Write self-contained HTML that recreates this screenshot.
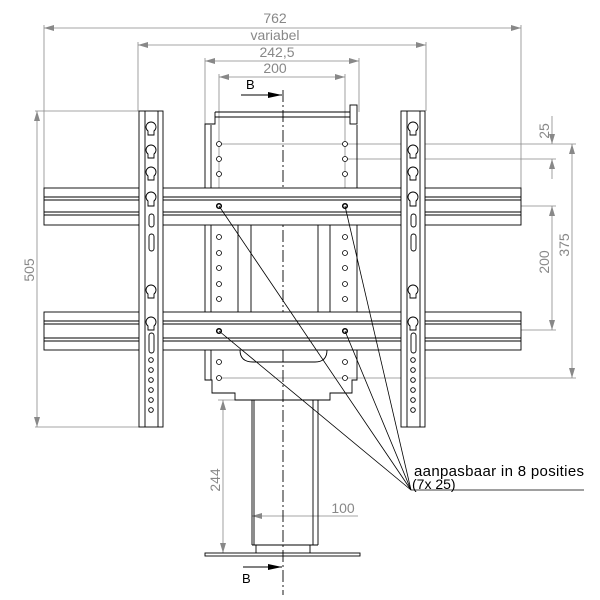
<!DOCTYPE html>
<html><head><style>body{margin:0;background:#fff}svg{display:block}</style></head><body>
<svg width="600" height="600" viewBox="0 0 600 600" xmlns="http://www.w3.org/2000/svg" font-family="Liberation Sans, sans-serif">
<defs>
<marker id="a" viewBox="0 0 10 6" refX="10" refY="3" markerWidth="10" markerHeight="6" orient="auto-start-reverse" markerUnits="userSpaceOnUse"><path d="M0,0L10,3L0,6z" fill="#888"/></marker>
<marker id="b" viewBox="0 0 14 6" refX="14" refY="3" markerWidth="14" markerHeight="6" orient="auto" markerUnits="userSpaceOnUse"><path d="M0,0L14,3L0,6z" fill="#000"/></marker>
</defs>
<g stroke="#888" stroke-width="0.8" fill="none">
<line x1="44" y1="25" x2="44" y2="188"/><line x1="521" y1="25" x2="521" y2="188"/>
<line x1="44" y1="28" x2="521" y2="28" marker-start="url(#a)" marker-end="url(#a)"/>
<line x1="138" y1="42" x2="138" y2="111"/><line x1="426" y1="42" x2="426" y2="111"/>
<line x1="138" y1="45" x2="426" y2="45" marker-start="url(#a)" marker-end="url(#a)"/>
<line x1="205" y1="58" x2="205" y2="124"/><line x1="359" y1="58" x2="359" y2="112"/>
<line x1="205" y1="61" x2="359" y2="61" marker-start="url(#a)" marker-end="url(#a)"/>
<line x1="219" y1="74" x2="219" y2="205"/><line x1="345" y1="74" x2="345" y2="205"/>
<line x1="219" y1="77" x2="345" y2="77" marker-start="url(#a)" marker-end="url(#a)"/>
<line x1="35" y1="111" x2="139" y2="111"/><line x1="35" y1="427" x2="139" y2="427"/>
<line x1="37" y1="111" x2="37" y2="427" marker-start="url(#a)" marker-end="url(#a)"/>
<line x1="219" y1="144" x2="576" y2="144"/><line x1="345" y1="159" x2="556" y2="159"/>
<line x1="552" y1="116" x2="552" y2="144" marker-end="url(#a)"/><line x1="552" y1="179" x2="552" y2="159" marker-end="url(#a)"/>
<line x1="521" y1="206" x2="556" y2="206"/><line x1="345" y1="330" x2="556" y2="330"/>
<line x1="552" y1="206" x2="552" y2="330" marker-start="url(#a)" marker-end="url(#a)"/>
<line x1="219" y1="378" x2="576" y2="378"/>
<line x1="572" y1="144" x2="572" y2="378" marker-start="url(#a)" marker-end="url(#a)"/>
<line x1="218" y1="400" x2="235" y2="400"/>
<line x1="223" y1="400" x2="223" y2="553" marker-start="url(#a)" marker-end="url(#a)"/>
<line x1="252" y1="516" x2="358" y2="516" marker-start="url(#a)"/>
</g>
<g fill="#888" font-size="14">
<text x="275" y="23" text-anchor="middle">762</text>
<text x="275" y="40" text-anchor="middle">variabel</text>
<text x="277" y="57" text-anchor="middle">242,5</text>
<text x="275" y="73" text-anchor="middle">200</text>
<text transform="translate(34,270) rotate(-90)" text-anchor="middle">505</text>
<text transform="translate(549,131) rotate(-90)" text-anchor="middle">25</text>
<text transform="translate(549,262) rotate(-90)" text-anchor="middle">200</text>
<text transform="translate(569,245) rotate(-90)" text-anchor="middle">375</text>
<text transform="translate(220,480) rotate(-90)" text-anchor="middle">244</text>
<text x="343" y="513" text-anchor="middle">100</text>
</g>
<line x1="283" y1="90" x2="283" y2="595" stroke="#000" stroke-width="0.9" stroke-dasharray="12,3,2,3"/>
<g stroke="#000" stroke-width="0.9" fill="none">
<path d="M215,112 L350,112 M215,112 L215,124 L205,124 L205,380 L212,380 L212,393 L235,393 L235,400 L330,400 L330,393 L352,393 L352,380 L357,380 L357,125"/>
<line x1="215" y1="117" x2="350" y2="117"/>
<rect x="350" y="105" width="7" height="19"/>
<line x1="211" y1="125" x2="211" y2="380"/>
<line x1="238" y1="225" x2="238" y2="312"/><line x1="251" y1="225" x2="251" y2="312"/>
<line x1="318" y1="225" x2="318" y2="312"/><line x1="330" y1="225" x2="330" y2="312"/>
<path d="M240,350 Q240,362 253,362 L315,362 Q327,362 327,350"/>
<line x1="252" y1="400" x2="252" y2="545"/><line x1="254" y1="400" x2="254" y2="545"/>
<line x1="313" y1="400" x2="313" y2="545"/><line x1="318" y1="400" x2="318" y2="545"/>
<path d="M252,545 L318,545 M256,545 L256,553 M310,545 L310,553"/>
<rect x="205" y="553" width="155" height="3"/>
</g>
<g stroke="#000" stroke-width="0.9" fill="#fff">
<rect x="44" y="188" width="477" height="37"/>
<rect x="44" y="312" width="477" height="38"/>
</g>
<g stroke="#000" stroke-width="1" fill="none">
<line x1="44" y1="197" x2="521" y2="197"/><line x1="44" y1="200" x2="521" y2="200"/>
<line x1="44" y1="212" x2="521" y2="212"/><line x1="44" y1="215" x2="521" y2="215"/>
<line x1="44" y1="321" x2="521" y2="321"/><line x1="44" y1="324" x2="521" y2="324"/>
<line x1="44" y1="338" x2="521" y2="338"/><line x1="44" y1="341" x2="521" y2="341"/>
</g>
<g stroke="#000" stroke-width="0.8" fill="#fff">
<circle cx="219" cy="144" r="2.5"/><circle cx="219" cy="159" r="2.5"/><circle cx="219" cy="174" r="2.5"/>
<circle cx="345" cy="144" r="2.5"/><circle cx="345" cy="159" r="2.5"/><circle cx="345" cy="174" r="2.5"/>
<circle cx="219" cy="237" r="2.5"/><circle cx="219" cy="253" r="2.5"/><circle cx="219" cy="268" r="2.5"/><circle cx="219" cy="284" r="2.5"/><circle cx="219" cy="299" r="2.5"/>
<circle cx="345" cy="237" r="2.5"/><circle cx="345" cy="253" r="2.5"/><circle cx="345" cy="268" r="2.5"/><circle cx="345" cy="284" r="2.5"/><circle cx="345" cy="299" r="2.5"/>
<circle cx="219" cy="362" r="2.5"/><circle cx="219" cy="378" r="2.5"/>
<circle cx="345" cy="362" r="2.5"/><circle cx="345" cy="378" r="2.5"/>
<circle cx="219" cy="206" r="2.3" stroke-width="1.5"/><circle cx="345" cy="206" r="2.3" stroke-width="1.5"/>
<circle cx="219" cy="331" r="2.3" stroke-width="1.5"/><circle cx="345" cy="331" r="2.3" stroke-width="1.5"/>
</g>
<g id="strip" stroke="#000" stroke-width="0.9" fill="#fff">
<rect x="139" y="111" width="24" height="316"/>
<line x1="145" y1="111" x2="145" y2="427" fill="none"/><line x1="158" y1="111" x2="158" y2="427" fill="none"/>
<g fill="#fff">
<path d="M148,135 L148,131 A5,5 0 1 1 154,131 L154,135 Z"/>
<path d="M148,158 L148,154 A5,5 0 1 1 154,154 L154,158 Z"/>
<path d="M148,180 L148,176 A5,5 0 1 1 154,176 L154,180 Z"/>
<path d="M148,206 L148,201 A5,5 0 1 1 154,201 L154,206 Z"/>
<rect x="149" y="214" width="5" height="13" rx="2.5"/>
<rect x="149" y="234" width="5" height="17" rx="2.5"/>
<path d="M148,298 L148,294 A5,5 0 1 1 154,294 L154,298 Z"/>
<path d="M148,330 L148,326 A5,5 0 1 1 154,326 L154,330 Z"/>
<rect x="149" y="333" width="5" height="20" rx="2.5"/>
<circle cx="151" cy="360" r="2.3"/><circle cx="151" cy="370" r="2.3"/><circle cx="151" cy="380" r="2.3"/><circle cx="151" cy="390" r="2.3"/><circle cx="151" cy="400" r="2.3"/><circle cx="151" cy="410" r="2.3"/>
</g>
</g>
<use href="#strip" transform="translate(262,0)"/>
<g stroke="#000" stroke-width="0.8">
<line x1="219" y1="206" x2="411" y2="490"/>
<line x1="345" y1="206" x2="411" y2="490"/>
<line x1="219" y1="331" x2="411" y2="490"/>
<line x1="345" y1="331" x2="411" y2="490"/>
<line x1="411" y1="490" x2="584" y2="490"/>
</g>
<text x="414" y="476" font-size="15" fill="#000" textLength="170">aanpasbaar in 8 posities</text>
<text x="412" y="489" font-size="14" fill="#000">(7x 25)</text>
<line x1="241" y1="95" x2="282" y2="95" stroke="#000" stroke-width="1" marker-end="url(#b)"/>
<text x="246" y="89" font-size="13">B</text>
<line x1="243" y1="567" x2="282" y2="567" stroke="#000" stroke-width="1" marker-end="url(#b)"/>
<text x="242" y="583" font-size="13">B</text>
</svg>
</body></html>
